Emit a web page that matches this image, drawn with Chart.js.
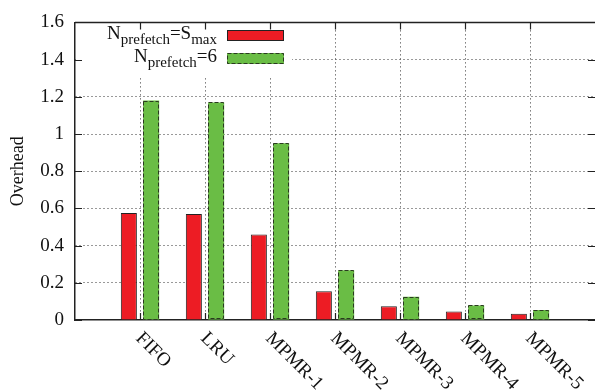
<!DOCTYPE html>
<html>
<head>
<meta charset="utf-8">
<script src="https://cdn.jsdelivr.net/npm/chart.js@4"></script>
<style>
  body { margin: 0; background: #fff; }
  #wrap { width: 595px; height: 390px; }
</style>
</head>
<body>
<div id="wrap"><canvas id="chart" width="595" height="390"></canvas></div>
<script>
// categories and values
const categories = ['FIFO', 'LRU', 'MPMR-1', 'MPMR-2', 'MPMR-3', 'MPMR-4', 'MPMR-5'];
const smaxValues = [0.575, 0.57, 0.46, 0.155, 0.074, 0.046, 0.033];
const sixValues = [1.18, 1.17, 0.95, 0.268, 0.125, 0.078, 0.054];
const yTicks = [0, 0.2, 0.4, 0.6, 0.8, 1, 1.2, 1.4, 1.6];

const RED = 'rgb(237,28,36)';
const GREEN = 'rgb(106,189,69)';
const INK = '#222';
const SERIF = '"Liberation Serif", "Times New Roman", serif';

function points(vals) {
    return vals.map((v, i) => ({ x: i, y: v }));
}

// gnuplot-like frame: top line, inward ticks, dashed outline on green bars,
// legend box and the slanted category labels
const decorPlugin = {
    id: 'decor',
    afterDatasetsDraw(chart) {
        const ctx = chart.ctx;
        const area = chart.chartArea;
        const xs = chart.scales.x;
        const ys = chart.scales.y;

        // dashed outline for the green bars
        const meta = chart.getDatasetMeta(1);
        ctx.save();
        ctx.strokeStyle = '#2a3a20';
        ctx.lineWidth = 1;
        ctx.setLineDash([4, 2]);
        meta.data.forEach(bar => {
            const p = bar.getProps(['x', 'y', 'base', 'width'], true);
            ctx.strokeRect(Math.round(p.x - p.width / 2) + 0.5, Math.round(p.y) + 0.5,
                Math.round(p.width) - 1, Math.round(p.base - p.y) - 1);
        });
        ctx.restore();

        // legend background
        ctx.save();
        ctx.fillStyle = '#fff';
        ctx.fillRect(area.left + 1, area.top + 1, 216, 53);

        // frame top line
        ctx.strokeStyle = INK;
        ctx.lineWidth = 1.5;
        ctx.beginPath();
        ctx.moveTo(area.left, area.top);
        ctx.lineTo(area.right, area.top);
        ctx.stroke();

        // inward ticks
        ctx.lineWidth = 1.2;
        ctx.beginPath();
        yTicks.forEach(v => {
            const py = Math.round(ys.getPixelForValue(v)) + 0.5;
            ctx.moveTo(area.left, py); ctx.lineTo(area.left + 7, py);
            ctx.moveTo(area.right, py); ctx.lineTo(area.right - 7, py);
        });
        categories.forEach((c, i) => {
            const px = Math.round(xs.getPixelForValue(i)) + 0.5;
            ctx.moveTo(px, area.top); ctx.lineTo(px, area.top + 7);
            ctx.moveTo(px, area.bottom); ctx.lineTo(px, area.bottom - 7);
        });
        ctx.stroke();

        // legend
        const keyX = 227, keyW = 57;
        const rows = [
            { main: 'N', sub: 'prefetch', rest: '=S', sub2: 'max', color: RED, dashed: false, base: 39 },
            { main: 'N', sub: 'prefetch', rest: '=6', sub2: '', color: GREEN, dashed: true, base: 62 }
        ];
        const bigFont = '19px ' + SERIF;
        const smallFont = '15px ' + SERIF;
        rows.forEach(r => {
            ctx.font = bigFont;
            const wMain = ctx.measureText(r.main).width;
            const wRest = ctx.measureText(r.rest).width;
            ctx.font = smallFont;
            const wSub = ctx.measureText(r.sub).width;
            const wSub2 = r.sub2 ? ctx.measureText(r.sub2).width : 0;
            let x = 217 - (wMain + wSub + wRest + wSub2);
            ctx.fillStyle = '#111';
            ctx.textBaseline = 'alphabetic';
            ctx.textAlign = 'left';
            ctx.font = bigFont; ctx.fillText(r.main, x, r.base); x += wMain;
            ctx.font = smallFont; ctx.fillText(r.sub, x, r.base + 5); x += wSub;
            ctx.font = bigFont; ctx.fillText(r.rest, x, r.base); x += wRest;
            if (r.sub2) { ctx.font = smallFont; ctx.fillText(r.sub2, x, r.base + 5); }

            const top = r.base - 9;
            ctx.fillStyle = r.color;
            ctx.fillRect(keyX, top, keyW, 11);
            ctx.strokeStyle = r.dashed ? '#2a3a20' : INK;
            ctx.lineWidth = 1;
            ctx.setLineDash(r.dashed ? [4, 2] : []);
            ctx.strokeRect(keyX + 0.5, top + 0.5, keyW - 1, 10);
            ctx.setLineDash([]);
        });

        // slanted category labels
        ctx.font = '19px ' + SERIF;
        ctx.fillStyle = '#111';
        ctx.textAlign = 'left';
        ctx.textBaseline = 'alphabetic';
        categories.forEach((c, i) => {
            const px = xs.getPixelForValue(i);
            ctx.save();
            ctx.translate(px - 5, area.bottom + 19);
            ctx.rotate(Math.PI / 4);
            ctx.fillText(c, 0, 0);
            ctx.restore();
        });
        ctx.restore();
    }
};

new Chart(document.getElementById('chart'), {
    type: 'bar',
    data: {
        datasets: [
            {
                label: 'N_prefetch=S_max',
                data: points(smaxValues),
                backgroundColor: RED,
                borderColor: INK,
                borderWidth: 1,
                categoryPercentage: 0.686,
                barPercentage: 0.72
            },
            {
                label: 'N_prefetch=6',
                data: points(sixValues),
                backgroundColor: GREEN,
                borderWidth: 0,
                categoryPercentage: 0.686,
                barPercentage: 0.72
            }
        ]
    },
    options: {
        responsive: false,
        animation: false,
        layout: { padding: { top: 16, right: 0, left: 0, bottom: 0 } },
        plugins: {
            legend: { display: false },
            tooltip: { enabled: false }
        },
        scales: {
            x: {
                type: 'linear',
                min: -1,
                max: 7,
                offset: false,
                ticks: { stepSize: 1, display: false, includeBounds: false },
                grid: {
                    offset: false,
                    drawTicks: false,
                    color: c => (c.tick && c.tick.value >= 0 && c.tick.value <= 6) ? '#333' : 'rgba(0,0,0,0)',
                    lineWidth: 1
                },
                border: { display: true, color: INK, width: 1.5, dash: [1, 3] },
                afterFit: scale => { scale.height = 70; }
            },
            y: {
                min: 0,
                max: 1.6,
                ticks: {
                    stepSize: 0.2,
                    padding: 11,
                    color: '#111',
                    font: { family: SERIF, size: 19 },
                    callback: v => String(Math.round(v * 10) / 10)
                },
                title: {
                    display: true,
                    text: 'Overhead',
                    color: '#111',
                    font: { family: SERIF, size: 18 },
                    padding: { top: 7, bottom: 0 }
                },
                grid: {
                    drawTicks: false,
                    color: c => (c.tick && c.tick.value > 0 && c.tick.value < 1.6) ? '#333' : 'rgba(0,0,0,0)',
                    lineWidth: 1
                },
                border: { display: true, color: INK, width: 1.5, dash: [1, 3] },
                afterFit: scale => { scale.width = 75; }
            }
        }
    },
    plugins: [decorPlugin]
});
</script>
</body>
</html>
